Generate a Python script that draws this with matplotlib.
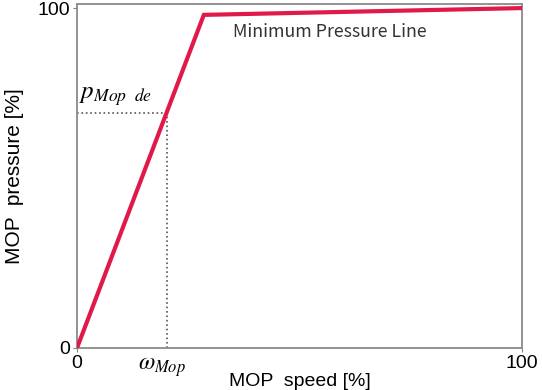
import matplotlib
matplotlib.use("Agg")
import matplotlib.pyplot as plt

plt.rcParams["font.family"] = ["Liberation Sans", "DejaVu Sans"]
plt.rcParams["mathtext.fontset"] = "stix"

# MOP pressure curve (percent)
speed = [0, 28.5, 100]
pressure = [0, 98, 100]

# design point
omega_mop = 20.2
p_mop_de = 69.0

x_ticks = [0, 100]
y_ticks = [0, 100]

fig = plt.figure(figsize=(5.42, 3.90), dpi=100)
ax = fig.add_axes([77 / 542, 42 / 390, 445 / 542, 344 / 390])

ax.plot(speed, pressure, color="#e0194a", linewidth=3, solid_joinstyle="miter", zorder=3)
ax.plot([0, omega_mop], [p_mop_de, p_mop_de], color="#555555", linestyle=":", linewidth=1.2)
ax.plot([omega_mop, omega_mop], [0, p_mop_de], color="#555555", linestyle=":", linewidth=1.2)

ax.set_xlim(0, 100)
ax.set_ylim(0, 101.2)
ax.set_xticks(x_ticks)
ax.set_yticks(y_ticks)
ax.tick_params(labelsize=14, length=3, color="#808080", pad=2)
for s in ax.spines.values():
    s.set_color("#8a8a8a")
    s.set_linewidth(1.3)

ax.text(0.5, 70.5, r"$p_{Mop\ \ de}$", fontsize=18, va="bottom")
ax.text(omega_mop - 1, -2.5, r"$\omega_{Mop}$", fontsize=17, ha="center", va="top")
ax.text(35, 93, "Minimum Pressure Line", fontsize=12.8, color="#333333", va="center",
        family=["Noto Sans CJK KR", "DejaVu Sans"])

ax.set_xlabel("MOP  speed [%]", fontsize=14, labelpad=1)
ax.set_ylabel("MOP  pressure [%]", fontsize=15, labelpad=10)

fig.savefig("out.png", dpi=100)
